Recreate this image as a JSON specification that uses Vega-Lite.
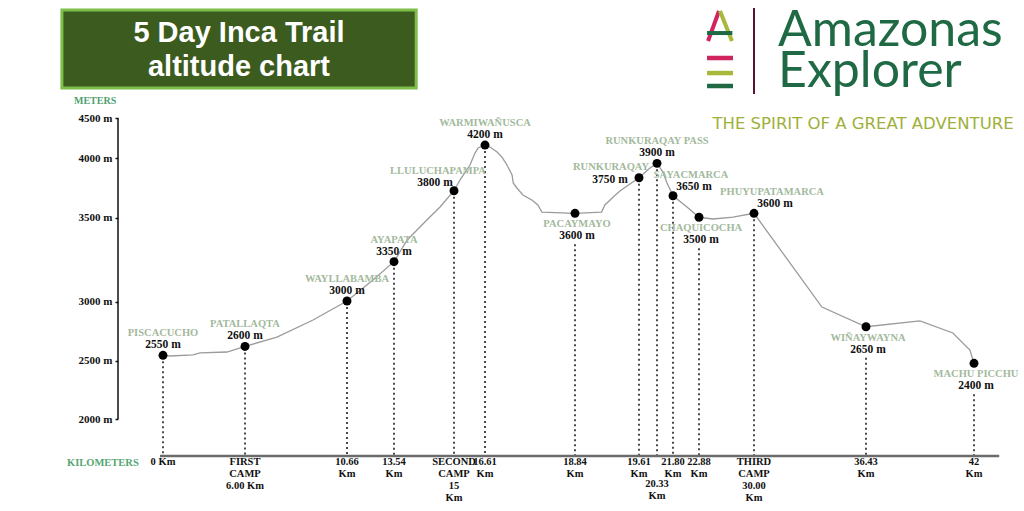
{
  "$schema": "https://vega.github.io/schema/vega-lite/v6.json",
  "description": "5 Day Inca Trail altitude chart",
  "width": 882,
  "height": 338,
  "autosize": {"type": "none"},
  "padding": {"left": 118, "top": 118, "right": 24, "bottom": 55},
  "background": "white",
  "datasets": {
    "profile": [
      {"km": 0, "alt": 2544}, {"km": 0.51, "alt": 2538}, {"km": 2.2, "alt": 2547},
      {"km": 2.71, "alt": 2564}, {"km": 4.68, "alt": 2572}, {"km": 6, "alt": 2619},
      {"km": 7.46, "alt": 2699}, {"km": 9.11, "alt": 2843}, {"km": 10.66, "alt": 3003},
      {"km": 12.25, "alt": 3128}, {"km": 13.54, "alt": 3237}, {"km": 13.86, "alt": 3366},
      {"km": 14.34, "alt": 3485}, {"km": 14.66, "alt": 3588}, {"km": 15, "alt": 3725},
      {"km": 15.31, "alt": 3815}, {"km": 15.83, "alt": 3941}, {"km": 16.09, "alt": 4062},
      {"km": 16.25, "alt": 4125}, {"km": 16.61, "alt": 4162}, {"km": 16.73, "alt": 4137},
      {"km": 16.91, "alt": 4075}, {"km": 17.03, "alt": 4012}, {"km": 17.11, "alt": 3966},
      {"km": 17.18, "alt": 3924}, {"km": 17.28, "alt": 3857}, {"km": 17.31, "alt": 3790},
      {"km": 17.4, "alt": 3748}, {"km": 17.55, "alt": 3689}, {"km": 17.77, "alt": 3647},
      {"km": 17.92, "alt": 3605}, {"km": 18.02, "alt": 3546}, {"km": 18.84, "alt": 3535},
      {"km": 19.16, "alt": 3546}, {"km": 19.2, "alt": 3605}, {"km": 19.3, "alt": 3672},
      {"km": 19.38, "alt": 3723}, {"km": 19.61, "alt": 3834}, {"km": 20.05, "alt": 3916},
      {"km": 20.33, "alt": 3955}, {"km": 20.88, "alt": 3882}, {"km": 21.25, "alt": 3790},
      {"km": 21.8, "alt": 3683}, {"km": 22.38, "alt": 3588}, {"km": 22.88, "alt": 3502},
      {"km": 24.69, "alt": 3491}, {"km": 27.28, "alt": 3504}, {"km": 30, "alt": 3535},
      {"km": 33.9, "alt": 2953}, {"km": 36.43, "alt": 2786}, {"km": 39.21, "alt": 2835},
      {"km": 40.91, "alt": 2733}, {"km": 41.79, "alt": 2589}, {"km": 42, "alt": 2476}
    ],
    "stops": [
      {"name": "PISCACUCHO", "km": 0, "alt": 2544, "elev": "2550 m", "kmLabel": "0 Km"},
      {"name": "PATALLAQTA", "km": 6, "alt": 2619, "elev": "2600 m", "kmLabel": "FIRST\nCAMP\n6.00 Km"},
      {"name": "WAYLLABAMBA", "km": 10.66, "alt": 3003, "elev": "3000 m", "kmLabel": "10.66\nKm"},
      {"name": "AYAPATA", "km": 13.54, "alt": 3237, "elev": "3350 m", "kmLabel": "13.54\nKm"},
      {"name": "LLULUCHAPAMPA", "km": 15, "alt": 3725, "elev": "3800 m", "kmLabel": "SECOND\nCAMP\n15\nKm"},
      {"name": "WARMIWAÑUSCA", "km": 16.61, "alt": 4162, "elev": "4200 m", "kmLabel": "16.61\nKm"},
      {"name": "PACAYMAYO", "km": 18.84, "alt": 3535, "elev": "3600 m", "kmLabel": "18.84\nKm"},
      {"name": "RUNKURAQAY", "km": 19.61, "alt": 3834, "elev": "3750 m", "kmLabel": "19.61\nKm"},
      {"name": "RUNKURAQAY PASS", "km": 20.33, "alt": 3955, "elev": "3900 m", "kmLabel": "20.33\nKm"},
      {"name": "SAYACMARCA", "km": 21.8, "alt": 3683, "elev": "3650 m", "kmLabel": "21.80\nKm"},
      {"name": "CHAQUICOCHA", "km": 22.88, "alt": 3502, "elev": "3500 m", "kmLabel": "22.88\nKm"},
      {"name": "PHUYUPATAMARCA", "km": 30, "alt": 3535, "elev": "3600 m", "kmLabel": "THIRD\nCAMP\n30.00\nKm"},
      {"name": "WIÑAYWAYNA", "km": 36.43, "alt": 2786, "elev": "2650 m", "kmLabel": "36.43\nKm"},
      {"name": "MACHU PICCHU", "km": 42, "alt": 2476, "elev": "2400 m", "kmLabel": "42\nKm"}
    ]
  },
  "layer": [
    {
      "data": {"name": "stops"},
      "transform": [{"filter": "indexof(['PACAYMAYO','CHAQUICOCHA','WIÑAYWAYNA','MACHU PICCHU'], datum.name) < 0"}],
      "mark": {"type": "rule", "color": "#111", "strokeWidth": 1.5, "strokeDash": [2, 3], "yOffset": 6},
      "encoding": {
        "x": {
          "field": "km", "type": "quantitative",
          "scale": {
            "domain": [-3.29, 0, 6, 10.66, 13.54, 15, 16.61, 18.84, 19.61, 20.33, 21.8, 22.88, 30, 36.43, 42, 43.34],
            "range": [0, 45, 127, 229, 276, 336, 367, 457, 521, 539, 555, 581, 636, 748, 856, 882],
            "nice": false, "zero": false
          },
          "axis": null
        },
        "y": {
          "field": "alt", "type": "quantitative",
          "scale": {
            "domain": [1684, 2000, 2500, 3000, 3500, 4000, 4500],
            "range": [338, 301, 242.5, 183.5, 99.5, 40, 0],
            "nice": false, "zero": false
          },
          "axis": {
            "title": null, "values": [2000, 2500, 3000, 3500, 4000, 4500],
            "labelExpr": "datum.value + ' m'", "domain": false, "grid": false,
            "tickSize": 3, "tickWidth": 1.5, "tickColor": "#111", "labelPadding": 3,
            "labelFont": "Liberation Serif", "labelFontWeight": "bold", "labelFontSize": 11, "labelColor": "#111"
          }
        },
        "y2": {"datum": 1684}
      }
    },
    {
      "data": {"name": "stops"},
      "transform": [{"filter": "indexof(['PACAYMAYO','CHAQUICOCHA','WIÑAYWAYNA','MACHU PICCHU'], datum.name) >= 0"}],
      "mark": {"type": "rule", "color": "#111", "strokeWidth": 1.5, "strokeDash": [2, 3], "yOffset": 31},
      "encoding": {
        "x": {"field": "km", "type": "quantitative"},
        "y": {"field": "alt", "type": "quantitative"},
        "y2": {"datum": 1684}
      }
    },
    {
      "data": {"values": [{}]},
      "mark": {"type": "rect", "fill": "#3c5b1f", "stroke": "#7dbf4a", "strokeWidth": 3, "clip": false},
      "encoding": {"x": {"datum": -7.39}, "x2": {"datum": 14.08}, "y": {"datum": 5850}, "y2": {"datum": 4875}}
    },
    {
      "data": {"values": [{}]},
      "mark": {"type": "text", "text": "5 Day Inca Trail\naltitude chart", "lineBreak": "\n", "lineHeight": 34,
               "font": "Liberation Sans", "fontWeight": "bold", "fontSize": 29, "color": "white",
               "align": "center", "baseline": "middle", "clip": false},
      "encoding": {"x": {"datum": 5.56}, "y": {"datum": 5562}}
    },
    {
      "data": {"values": [{}]},
      "mark": {"type": "rule", "color": "#d0245f", "strokeWidth": 4, "clip": false},
      "encoding": {"x": {"datum": 24.05}, "x2": {"datum": 25.47}, "y": {"datum": 5462}, "y2": {"datum": 5837}}
    },
    {
      "data": {"values": [{}]},
      "mark": {"type": "rule", "color": "#a8b83a", "strokeWidth": 4, "clip": false},
      "encoding": {"x": {"datum": 25.6}, "x2": {"datum": 27.15}, "y": {"datum": 5837}, "y2": {"datum": 5462}}
    },
    {
      "data": {"values": [{}]},
      "mark": {"type": "rule", "color": "#1f6a45", "strokeWidth": 4, "clip": false},
      "encoding": {"x": {"datum": 23.92}, "x2": {"datum": 27.2}, "y": {"datum": 5562}}
    },
    {
      "data": {"values": [{}]},
      "mark": {"type": "rule", "color": "#d0245f", "strokeWidth": 4.5, "clip": false},
      "encoding": {"x": {"datum": 23.92}, "x2": {"datum": 27.28}, "y": {"datum": 5250}}
    },
    {
      "data": {"values": [{}]},
      "mark": {"type": "rule", "color": "#a8b83a", "strokeWidth": 4.5, "clip": false},
      "encoding": {"x": {"datum": 23.92}, "x2": {"datum": 27.28}, "y": {"datum": 5062}}
    },
    {
      "data": {"values": [{}]},
      "mark": {"type": "rule", "color": "#1f6a45", "strokeWidth": 4.5, "clip": false},
      "encoding": {"x": {"datum": 23.92}, "x2": {"datum": 27.28}, "y": {"datum": 4900}}
    },
    {
      "data": {"values": [{}]},
      "mark": {"type": "rule", "color": "#5a1232", "strokeWidth": 2, "clip": false},
      "encoding": {"x": {"datum": 30}, "y": {"datum": 5875}, "y2": {"datum": 4800}}
    },
    {
      "data": {"values": [{}]},
      "mark": {"type": "text", "text": "Amazonas", "font": "Lato", "fontWeight": 400, "fontSize": 50, "color": "#1f6a45",
               "align": "left", "baseline": "alphabetic", "clip": false},
      "encoding": {"x": {"datum": 31.38}, "y": {"datum": 5400}}
    },
    {
      "data": {"values": [{}]},
      "mark": {"type": "text", "text": "Explorer", "font": "Lato", "fontWeight": 400, "fontSize": 50, "color": "#1f6a45",
               "align": "left", "baseline": "alphabetic", "clip": false},
      "encoding": {"x": {"datum": 31.38}, "y": {"datum": 4887}}
    },
    {
      "data": {"values": [{}]},
      "mark": {"type": "text", "text": "THE SPIRIT OF A GREAT ADVENTURE", "font": "DejaVu Sans", "fontSize": 16.5, "color": "#9fb03a",
               "align": "center", "baseline": "middle", "clip": false},
      "encoding": {"x": {"datum": 36.26}, "y": {"datum": 4425}}
    },
    {
      "data": {"values": [{}]},
      "mark": {"type": "text", "text": "METERS", "font": "Liberation Serif", "fontWeight": "bold", "fontSize": 10, "color": "#4f9f6f",
               "align": "left", "baseline": "middle", "clip": false},
      "encoding": {"x": {"datum": -6.51}, "y": {"datum": 4712}}
    },
    {
      "data": {"values": [{}]},
      "mark": {"type": "text", "text": "KILOMETERS", "font": "Liberation Serif", "fontWeight": "bold", "fontSize": 10.5, "color": "#55a672",
               "align": "left", "baseline": "middle", "clip": false},
      "encoding": {"x": {"datum": -7.02}, "y": {"datum": 1624}}
    },
    {
      "data": {"values": [{}]},
      "mark": {"type": "rule", "color": "#6b6b6b", "strokeWidth": 2.5, "clip": false},
      "encoding": {"x": {"datum": -0.22}, "x2": {"datum": 43.3}, "y": {"datum": 1684}}
    },
    {
      "data": {"values": [{}]},
      "mark": {"type": "rule", "color": "#111", "strokeWidth": 1.5},
      "encoding": {"x": {"datum": -3.29}, "y": {"datum": 2000}, "y2": {"datum": 4500}}
    },
    {
      "data": {"name": "profile"},
      "mark": {"type": "line", "color": "#9b9b9b", "strokeWidth": 1.3},
      "encoding": {
        "x": {"field": "km", "type": "quantitative"},
        "y": {"field": "alt", "type": "quantitative"}
      }
    },
    {
      "data": {"name": "stops"},
      "mark": {"type": "circle", "color": "#000", "opacity": 1, "size": 80},
      "encoding": {
        "x": {"field": "km", "type": "quantitative"},
        "y": {"field": "alt", "type": "quantitative"}
      }
    },
    {
      "data": {"name": "stops"},
      "transform": [{"filter": "datum.km != 20.33"}],
      "mark": {"type": "text", "lineBreak": "\n", "lineHeight": 12, "font": "Liberation Serif", "fontWeight": "bold",
               "fontSize": 10.5, "color": "#111", "align": "center", "baseline": "top", "clip": false},
      "encoding": {"x": {"field": "km", "type": "quantitative"}, "y": {"datum": 1675}, "text": {"field": "kmLabel"}}
    },
    {
      "data": {"name": "stops"},
      "transform": [{"filter": "datum.km == 20.33"}],
      "mark": {"type": "text", "lineBreak": "\n", "lineHeight": 12, "font": "Liberation Serif", "fontWeight": "bold",
               "fontSize": 10.5, "color": "#111", "align": "center", "baseline": "top", "dy": 22, "clip": false},
      "encoding": {"x": {"field": "km", "type": "quantitative"}, "y": {"datum": 1675}, "text": {"field": "kmLabel"}}
    },
    {
      "data": {"name": "stops"},
      "transform": [{"filter": "indexof(['PISCACUCHO','PATALLAQTA','WAYLLABAMBA','AYAPATA','WARMIWAÑUSCA','RUNKURAQAY PASS'], datum.name) >= 0"}],
      "mark": {"type": "text", "font": "Liberation Serif", "fontWeight": "bold", "fontSize": 10.5, "color": "#a3b99d", "baseline": "middle", "dy": -22},
      "encoding": {"x": {"field": "km", "type": "quantitative"}, "y": {"field": "alt", "type": "quantitative"}, "text": {"field": "name"}}
    },
    {
      "data": {"name": "stops"},
      "transform": [{"filter": "indexof(['PISCACUCHO','PATALLAQTA','WAYLLABAMBA','AYAPATA','WARMIWAÑUSCA','RUNKURAQAY PASS'], datum.name) >= 0"}],
      "mark": {"type": "text", "font": "Liberation Serif", "fontWeight": "bold", "fontSize": 11.5, "color": "#111", "baseline": "middle", "dy": -10},
      "encoding": {"x": {"field": "km", "type": "quantitative"}, "y": {"field": "alt", "type": "quantitative"}, "text": {"field": "elev"}}
    },
    {
      "data": {"name": "stops"},
      "transform": [{"filter": "indexof(['PACAYMAYO','CHAQUICOCHA','WIÑAYWAYNA','MACHU PICCHU'], datum.name) >= 0"}],
      "mark": {"type": "text", "font": "Liberation Serif", "fontWeight": "bold", "fontSize": 10.5, "color": "#a3b99d", "baseline": "middle", "dy": 11, "dx": 2, "clip": false},
      "encoding": {"x": {"field": "km", "type": "quantitative"}, "y": {"field": "alt", "type": "quantitative"}, "text": {"field": "name"}}
    },
    {
      "data": {"name": "stops"},
      "transform": [{"filter": "indexof(['PACAYMAYO','CHAQUICOCHA','WIÑAYWAYNA','MACHU PICCHU'], datum.name) >= 0"}],
      "mark": {"type": "text", "font": "Liberation Serif", "fontWeight": "bold", "fontSize": 11.5, "color": "#111", "baseline": "middle", "dy": 23, "dx": 2, "clip": false},
      "encoding": {"x": {"field": "km", "type": "quantitative"}, "y": {"field": "alt", "type": "quantitative"}, "text": {"field": "elev"}}
    },
    {
      "data": {"name": "stops"},
      "transform": [{"filter": "datum.name == 'LLULUCHAPAMPA'"}],
      "mark": {"type": "text", "font": "Liberation Serif", "fontWeight": "bold", "fontSize": 10.5, "color": "#a3b99d", "baseline": "middle", "dy": -20, "dx": -16},
      "encoding": {"x": {"field": "km", "type": "quantitative"}, "y": {"field": "alt", "type": "quantitative"}, "text": {"field": "name"}}
    },
    {
      "data": {"name": "stops"},
      "transform": [{"filter": "datum.name == 'LLULUCHAPAMPA'"}],
      "mark": {"type": "text", "font": "Liberation Serif", "fontWeight": "bold", "fontSize": 11.5, "color": "#111", "baseline": "middle", "dy": -8, "dx": -19},
      "encoding": {"x": {"field": "km", "type": "quantitative"}, "y": {"field": "alt", "type": "quantitative"}, "text": {"field": "elev"}}
    },
    {
      "data": {"name": "stops"},
      "transform": [{"filter": "datum.name == 'RUNKURAQAY'"}],
      "mark": {"type": "text", "font": "Liberation Serif", "fontWeight": "bold", "fontSize": 10.5, "color": "#a3b99d", "baseline": "middle", "dy": -11, "dx": -28},
      "encoding": {"x": {"field": "km", "type": "quantitative"}, "y": {"field": "alt", "type": "quantitative"}, "text": {"field": "name"}}
    },
    {
      "data": {"name": "stops"},
      "transform": [{"filter": "datum.name == 'RUNKURAQAY'"}],
      "mark": {"type": "text", "font": "Liberation Serif", "fontWeight": "bold", "fontSize": 11.5, "color": "#111", "baseline": "middle", "dy": 2, "dx": -29},
      "encoding": {"x": {"field": "km", "type": "quantitative"}, "y": {"field": "alt", "type": "quantitative"}, "text": {"field": "elev"}}
    },
    {
      "data": {"name": "stops"},
      "transform": [{"filter": "datum.name == 'SAYACMARCA' || datum.name == 'PHUYUPATAMARCA'"}],
      "mark": {"type": "text", "font": "Liberation Serif", "fontWeight": "bold", "fontSize": 10.5, "color": "#a3b99d", "baseline": "middle", "dy": -21, "dx": 18},
      "encoding": {"x": {"field": "km", "type": "quantitative"}, "y": {"field": "alt", "type": "quantitative"}, "text": {"field": "name"}}
    },
    {
      "data": {"name": "stops"},
      "transform": [{"filter": "datum.name == 'SAYACMARCA' || datum.name == 'PHUYUPATAMARCA'"}],
      "mark": {"type": "text", "font": "Liberation Serif", "fontWeight": "bold", "fontSize": 11.5, "color": "#111", "baseline": "middle", "dy": -9, "dx": 21},
      "encoding": {"x": {"field": "km", "type": "quantitative"}, "y": {"field": "alt", "type": "quantitative"}, "text": {"field": "elev"}}
    }
  ],
  "config": {
    "view": {"stroke": null},
    "axisX": {"disable": true}
  }
}
